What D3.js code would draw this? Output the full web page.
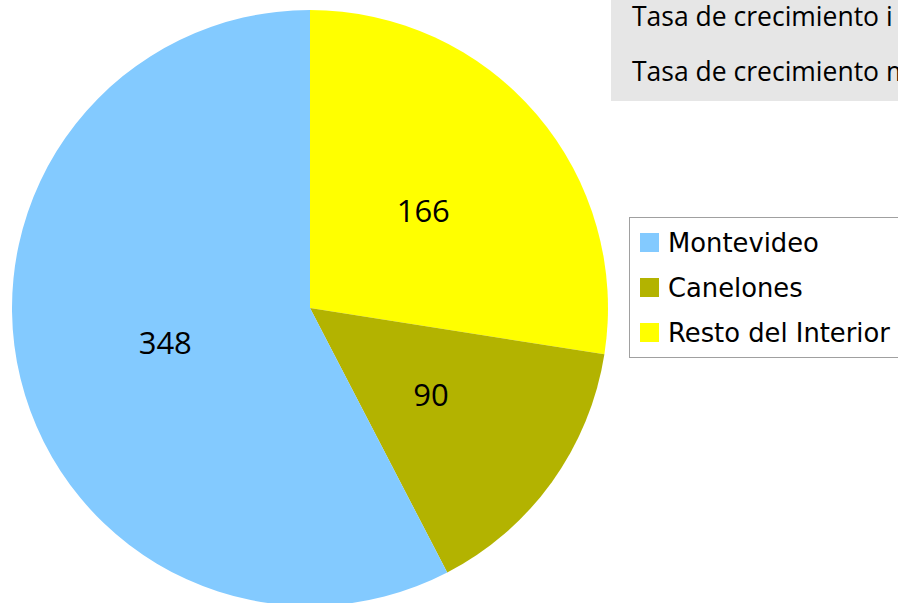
<!DOCTYPE html>
<html>
<head>
<meta charset="utf-8">
<script src="https://cdn.jsdelivr.net/npm/d3@7"></script>
<style>
  html, body { margin: 0; padding: 0; background: #fff; overflow: hidden; }
  svg { display: block; }
</style>
</head>
<body>
<div id="chart"></div>
<script>
// Data
const regions = ["Resto del Interior", "Canelones", "Montevideo"];
const counts = [166, 90, 348];
const colors = ["#FFFF00", "#B3B300", "#83CAFF"];
const legendOrder = ["Montevideo", "Canelones", "Resto del Interior"];
const noteLines = ["Tasa de crecimiento i", "Tasa de crecimiento m"];

const width = 898, height = 603;
const cx = 310, cy = 308, radius = 298;

const svg = d3.select("#chart").append("svg")
    .attr("width", width)
    .attr("height", height);

const color = d3.scaleOrdinal().domain(regions).range(colors);

const slices = regions.map((r, i) => ({ name: r, value: counts[i] }));

const pie = d3.pie()
    .value(d => d.value)
    .sort(null);

const arc = d3.arc().innerRadius(0).outerRadius(radius);
const labelArc = d3.arc().innerRadius(radius * 0.5).outerRadius(radius * 0.5);

const g = svg.append("g").attr("transform", `translate(${cx},${cy})`);

g.selectAll("path")
    .data(pie(slices))
    .enter().append("path")
    .attr("d", arc)
    .attr("fill", d => color(d.data.name));

g.selectAll("text")
    .data(pie(slices))
    .enter().append("text")
    .attr("transform", d => `translate(${labelArc.centroid(d)})`)
    .attr("text-anchor", "middle")
    .attr("dy", "0.36em")
    .style("font-family", "'Open Sans', sans-serif")
    .style("font-size", "31px")
    .style("fill", "#000")
    .text(d => d.data.value);

// Grey note box in the top right (cut off by the edge)
const note = svg.append("g");
note.append("rect")
    .attr("x", 611).attr("y", -2)
    .attr("width", 300).attr("height", 103)
    .attr("fill", "#e6e6e6");
note.selectAll("text")
    .data(noteLines)
    .enter().append("text")
    .attr("x", 632)
    .attr("y", (d, i) => 26 + i * 55)
    .style("font-family", "'Open Sans', sans-serif")
    .style("font-size", "26.5px")
    .style("fill", "#000")
    .text(d => d);

// Legend
const legend = svg.append("g");
legend.append("rect")
    .attr("x", 629.5).attr("y", 217.5)
    .attr("width", 300).attr("height", 140)
    .attr("fill", "#fff")
    .attr("stroke", "#a0a0a0")
    .attr("stroke-width", 1);

const item = legend.selectAll("g.item")
    .data(legendOrder)
    .enter().append("g")
    .attr("class", "item")
    .attr("transform", (d, i) => `translate(640,${233 + i * 45})`);

item.append("rect")
    .attr("width", 19).attr("height", 19)
    .attr("fill", d => color(d));

item.append("text")
    .attr("x", 28)
    .attr("y", 19)
    .style("font-family", "'DejaVu Sans', sans-serif")
    .style("font-size", "25.8px")
    .style("fill", "#000")
    .text(d => d);
</script>
</body>
</html>
